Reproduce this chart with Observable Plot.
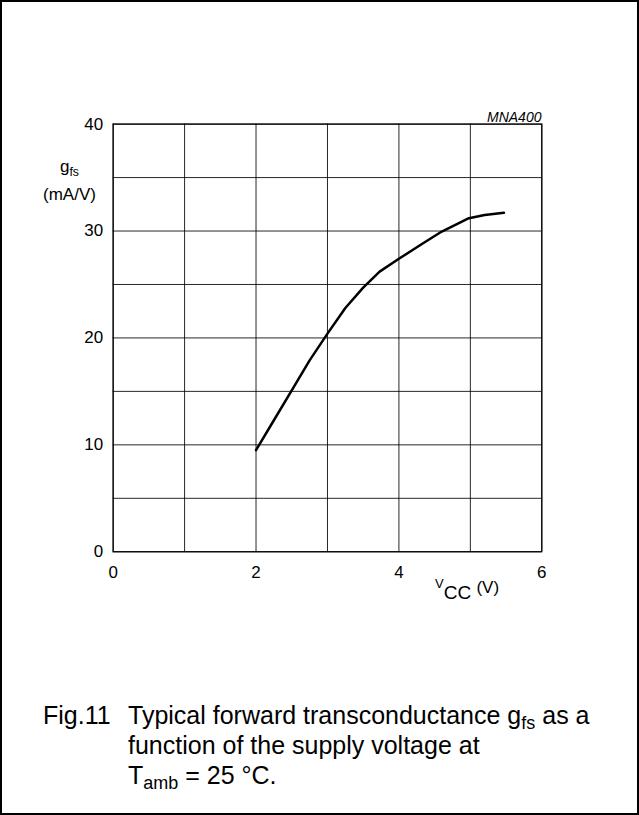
<!DOCTYPE html>
<html>
<head>
<meta charset="utf-8">
<script src="https://cdn.jsdelivr.net/npm/d3@7"></script>
<script src="https://cdn.jsdelivr.net/npm/@observablehq/plot@0.6"></script>
<style>
  html, body { margin: 0; padding: 0; background: #fff; }
  #page { position: relative; width: 639px; height: 815px; box-sizing: border-box; border: 2px solid #000; overflow: hidden; font-family: "Liberation Sans", Arial, sans-serif; color: #000; }
  #chart { position: absolute; left: -2px; top: -2px; }
  .sub { font-size: 0.72em; position: relative; top: 0.3em; }
</style>
</head>
<body>
<div id="page">
  <div id="chart"></div>
</div>
<script>
// Data
const vcc = [2.0, 2.25, 2.5, 2.75, 3.0, 3.25, 3.5, 3.73, 4.0, 4.3, 4.6, 4.98, 5.2, 5.47];
const gfs = [9.5, 12.3, 15.1, 17.9, 20.4, 22.8, 24.7, 26.2, 27.4, 28.7, 29.95, 31.2, 31.5, 31.7];
const xTicks = [0, 2, 4, 6];
const yTicks = [0, 10, 20, 30, 40];
const xGrid = [0, 1, 2, 3, 4, 5, 6];
const yGrid = [0, 5, 10, 15, 20, 25, 30, 35, 40];

const data = vcc.map((v, i) => ({v, g: gfs[i]}));

const chart = Plot.plot({
  width: 639,
  height: 815,
  marginLeft: 113,
  marginRight: 96,
  marginTop: 124,
  marginBottom: 262,
  style: {fontFamily: "'Liberation Sans', Arial, sans-serif", fontSize: "17px", color: "#000", background: "transparent"},
  x: {domain: [0, 6]},
  y: {domain: [0, 40]},
  marks: [
    Plot.gridX(xGrid, {stroke: "#000", strokeOpacity: 0.85, strokeWidth: 1}),
    Plot.gridY(yGrid, {stroke: "#000", strokeOpacity: 0.85, strokeWidth: 1}),
    Plot.frame({stroke: "#000", strokeWidth: 1.2}),
    Plot.line(data, {x: "v", y: "g", stroke: "#000", strokeWidth: 2.5, strokeLinejoin: "round"}),
    Plot.axisX(xTicks, {tickSize: 0, tickPadding: 14, label: null, fontSize: 17}),
    Plot.axisY(yTicks, {tickSize: 0, tickPadding: 10, label: null, fontSize: 17})
  ]
});
document.getElementById("chart").appendChild(chart);

// Text labels placed by baseline (page coordinates)
const page = document.getElementById("page");
function addBase(html, x, baseline, size, extra = "") {
  const s = document.createElement("span");
  s.style.cssText = `position:absolute; left:${x - 2}px; top:${baseline - 2}px; font-size:${size}px; white-space:nowrap; line-height:0; ${extra}`;
  s.innerHTML = html;
  page.appendChild(s);
  return s;
}
addBase('g<span class="sub">fs</span>', 60, 167, 17);
addBase('(mA/V)', 43, 195, 17);
addBase('MNA400', 487, 117, 14, 'font-style:italic;');
addBase('<span style="font-size:13px; position:relative; top:-11px;">V</span><span style="font-size:19px;">CC</span> <span style="font-size:17px; position:relative; top:-6px;">(V)</span>', 435, 593, 19);
addBase('Fig.11', 43, 715, 25);
addBase('Typical forward transconductance g<span class="sub">fs</span> as a', 128, 715, 25);
addBase('function of the supply voltage at', 128, 745, 25);
addBase('T<span class="sub">amb</span> = 25 °C.', 128, 775, 25);
</script>
</body>
</html>
